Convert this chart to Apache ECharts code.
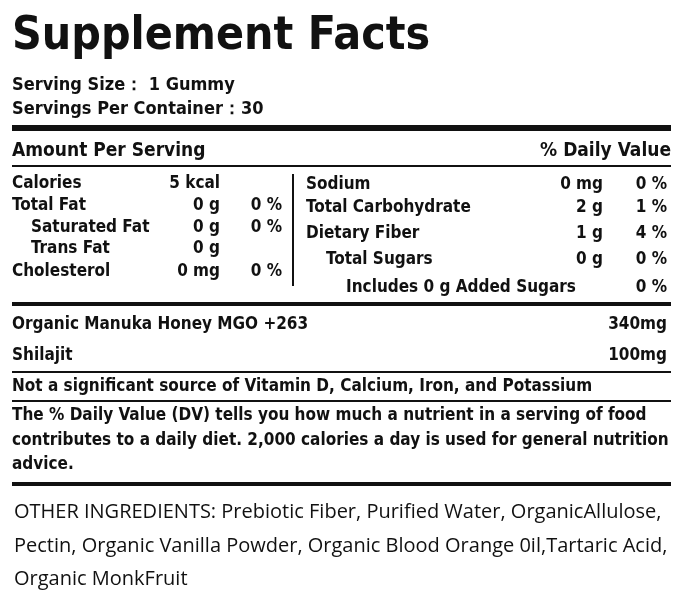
<!DOCTYPE html>
<html><head><meta charset="utf-8">
<script src="https://cdn.jsdelivr.net/npm/echarts@6/dist/echarts.min.js"></script>
<style>html,body{margin:0;padding:0;background:#fff}#c{width:683px;height:601px}</style>
</head><body><div id="c"></div>
<script>
const title = "Supplement Facts";
const servingLines = ["Serving Size： 1 Gummy", "Servings Per Container：30"];
const leftLabels = ["Calories", "Total Fat", "Saturated Fat", "Trans Fat", "Cholesterol"];
const leftIndent = [0, 0, 1, 1, 0];
const leftAmounts = ["5 kcal", "0 g", "0 g", "0 g", "0 mg"];
const leftDV = ["", "0 %", "0 %", "", "0 %"];
const rightLabels = ["Sodium", "Total Carbohydrate", "Dietary Fiber", "Total Sugars", "Includes 0 g Added Sugars"];
const rightIndent = [0, 0, 0, 1, 2];
const rightAmounts = ["0 mg", "2 g", "1 g", "0 g", ""];
const rightDV = ["0 %", "1 %", "4 %", "0 %", "0 %"];
const ingredientNames = ["Organic Manuka Honey MGO +263", "Shilajit"];
const ingredientAmounts = ["340mg", "100mg"];
const notes = ["Not a significant source of Vitamin D, Calcium, Iron, and Potassium",
  "The % Daily Value (DV) tells you how much a nutrient in a serving of food",
  "contributes to a daily diet. 2,000 calories a day is used for general nutrition",
  "advice."];
const otherLines = ["OTHER INGREDIENTS: Prebiotic Fiber, Purified Water, OrganicAllulose,",
  "Pectin, Organic Vanilla Powder, Organic Blood Orange 0il,Tartaric Acid,",
  "Organic MonkFruit"];

const F = "'DejaVu Sans Condensed','Liberation Sans Narrow',sans-serif";
const g = [];
function t(x, y, s, size, opts) {
  opts = opts || {};
  g.push({type:'text', x:x, y:y, style:{text:s, font:(opts.w||'bold')+' '+size+'px '+(opts.f||F),
    fill:'#111', textAlign:opts.a||'left', textVerticalAlign:'middle'}});
}
function line(y, w, x1, x2) {
  g.push({type:'rect', shape:{x:x1||12, y:y-w/2, width:(x2||671)-(x1||12), height:w}, style:{fill:'#111'}});
}
t(12, 37, title, 46, {});
servingLines.forEach((s,i)=>t(12, 85+i*24, s, 18));
line(128, 6);
t(12, 151, "Amount Per Serving", 19);
t(671, 151, "% Daily Value", 19, {a:'right'});
line(166, 2);
const ly = [184, 206, 228, 249, 272];
leftLabels.forEach((s,i)=>{
  t(12 + leftIndent[i]*19, ly[i], s, 17);
  t(220, ly[i], leftAmounts[i], 17, {a:'right'});
  if (leftDV[i]) t(282, ly[i], leftDV[i], 17, {a:'right'});
});
g.push({type:'rect', shape:{x:292, y:174, width:2, height:112}, style:{fill:'#111'}});
const ry = [185, 208, 234, 260, 288];
rightLabels.forEach((s,i)=>{
  t(306 + rightIndent[i]*20, ry[i], s, 17);
  if (rightAmounts[i]) t(603, ry[i], rightAmounts[i], 17, {a:'right'});
  t(667, ry[i], rightDV[i], 17, {a:'right'});
});
line(304, 4);
const iy = [325, 356];
ingredientNames.forEach((s,i)=>{
  t(12, iy[i], s, 17);
  t(667, iy[i], ingredientAmounts[i], 17, {a:'right'});
});
line(372, 2);
t(12, 387, notes[0], 17);
line(401, 2);
[416, 441, 465].forEach((y,i)=>t(12, y, notes[i+1], 17));
line(484, 4);
[512, 546, 579].forEach((y,i)=>t(14, y, otherLines[i], 20, {w:'normal', f:"'Open Sans',sans-serif"}));

const chart = echarts.init(document.getElementById('c'));
chart.setOption({animation:false, graphic:g});
</script></body></html>
